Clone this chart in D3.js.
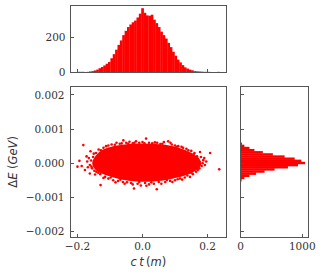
<!DOCTYPE html>
<html><head><meta charset="utf-8">
<script src="https://cdn.jsdelivr.net/npm/d3@7"></script>
<style>
html,body{margin:0;padding:0;background:#fff;}
svg{display:block;}
.tick-label{font-family:"DejaVu Serif",serif;font-size:10.5px;fill:#333;}
.axis-label{font-family:"DejaVu Sans",sans-serif;font-size:11.5px;fill:#333;}
</style>
</head><body>
<svg id="chart" width="323" height="274"></svg>
<script>
// ---------------- data ----------------
// top histogram of c t (m): 60 equal bins between these edges
const ctBinRange = [-0.201, 0.237];
const ctCounts = [1,1,1,0,1,3,5,9,14,22,29,38,48,58,80,104,130,158,184,215,
  240,262,277,290,300,318,340,372,345,330,328,334,305,285,262,235,215,195,170,145,
  118,95,72,56,40,27,20,14,10,5,4,3,2,1,1,1,0,0,0,1];
// right histogram of ΔE (GeV): 24 equal bins, listed from lowest ΔE to highest
const dEBinRange = [-0.00077, 0.00073];
const dECounts = [1,1,3,6,15,60,142,250,387,550,767,930,1045,984,876,713,522,359,223,142,60,20,4,1];
// dense core outline of the scatter cloud [ct, ΔE]
const coreOutline = [
  [-0.151,-0.00001],[-0.141,0.0002],[-0.121,0.00036],[-0.090,0.00046],[-0.049,0.00052],
  [-0.008,0.00054],[0.033,0.00053],[0.074,0.0005],[0.115,0.0004],[0.146,0.00028],
  [0.172,0.00011],[0.177,-0.00003],[0.162,-0.00018],[0.131,-0.00032],[0.085,-0.00043],
  [0.033,-0.0005],[-0.018,-0.0005],[-0.069,-0.00043],[-0.110,-0.00032],[-0.141,-0.00018]
];
// individual particles visible around the core [ct, ΔE]
const particles = [
  [-0.182,0.00053],[-0.172,0.0002],[-0.194,0.00007],[-0.2,-0.0001],[-0.187,-0.00008],
  [-0.177,-0.0002],[-0.162,-0.0003],[-0.146,-0.00033],[-0.129,-0.00064],
  [-0.16,0.00035],[-0.15,0.00028],[-0.135,0.0004],[-0.12,0.00045],[-0.105,0.00052],
  [-0.095,0.00055],[-0.08,0.0006],[-0.07,0.00057],[-0.059,0.00067],[-0.05,0.0006],
  [-0.04,0.00063],[-0.03,0.00058],[-0.02,0.00064],[-0.01,0.0006],[0.0,0.00062],
  [0.011,0.00072],[0.02,0.0006],[0.03,0.00058],[0.045,0.0006],[0.055,0.00056],
  [0.066,0.00062],[0.079,0.00064],[0.09,0.00055],[0.1,0.00052],[0.11,0.0005],
  [0.125,0.00045],[0.135,0.00042],[0.15,0.00036],[0.16,0.0003],[0.177,0.00033],
  [0.208,0.0003],[0.19,0.00015],[0.187,0.00009],[0.185,0.0],[0.182,-0.00008],
  [0.175,-0.00015],[0.236,-0.00018],[0.165,-0.00025],[0.155,-0.00032],[0.146,-0.0004],
  [0.13,-0.00042],[0.115,-0.00045],[0.1,-0.0005],[0.085,-0.00052],[0.07,-0.00055],
  [0.058,-0.0006],[0.044,-0.00076],[0.035,-0.0006],[0.02,-0.00062],[0.008,-0.00058],
  [-0.005,-0.00065],[-0.015,-0.0006],[-0.026,-0.00074],[-0.035,-0.00058],[-0.048,-0.00056],
  [-0.06,-0.00055],[-0.075,-0.00052],[-0.09,-0.0005],[-0.105,-0.00045],[-0.115,-0.0004],
  [-0.13,-0.00032],[-0.142,-0.00025],[-0.155,-0.00015],[-0.162,-0.00005],[-0.165,0.00015],
  [-0.17,0.00005],
  [-0.158,0.00008],[-0.152,0.00018],[-0.143,0.0003],[-0.128,0.00038],[-0.112,0.0005],
  [-0.085,0.00054],[-0.064,0.00058],[-0.044,0.00057],[-0.025,0.0006],[0.006,0.00058],
  [0.038,0.00061],[0.061,0.00057],[0.086,0.0006],[0.105,0.00048],[0.12,0.00048],
  [0.141,0.00038],[0.157,0.00026],[0.168,0.0002],[0.18,0.00018],[0.196,0.00005],
  [0.192,-0.00005],[0.17,-0.0002],[0.15,-0.00028],[0.138,-0.00036],[0.122,-0.00048],
  [0.108,-0.00047],[0.092,-0.00055],[0.075,-0.00049],[0.05,-0.00055],[0.027,-0.00056],
  [0.012,-0.00066],[-0.01,-0.00055],[-0.03,-0.00062],[-0.055,-0.0006],[-0.068,-0.00048],
  [-0.083,-0.00056],[-0.098,-0.00042],[-0.12,-0.00043],[-0.136,-0.00028],[-0.148,-0.00022],
  [-0.157,-0.0001],[-0.168,-0.00012]
];
const ctTicks = [-0.2, 0.0, 0.2];
const dETicks = [-0.002, -0.001, 0.0, 0.001, 0.002];
const ctCountTicks = [0, 200];
const dECountTicks = [0, 1000];

// ---------------- layout ----------------
const svg = d3.select("#chart");
const mainBox = {l:70, r:226.7, t:86, b:237.7};
const topBox = {l:70, r:226.7, t:5, b:72};
const sideBox = {l:240.7, r:308.3, t:86, b:237.7};
const red = "#ff0000", frame = "#555", TL = 3.5;
const minus = s => s.replace("-", "\u2212");

const x = d3.scaleLinear().domain([-0.223, 0.259]).range([mainBox.l, mainBox.r]);
const y = d3.scaleLinear().domain([-0.00218, 0.00226]).range([mainBox.b, mainBox.t]);
const yTop = d3.scaleLinear().domain([0, d3.max(ctCounts)*1.05]).range([topBox.b, topBox.t]);
const xSide = d3.scaleLinear().domain([0, d3.max(dECounts)*1.05]).range([sideBox.l, sideBox.r]);

const ctW = (ctBinRange[1]-ctBinRange[0])/ctCounts.length;
const dEW = (dEBinRange[1]-dEBinRange[0])/dECounts.length;

// ---- top histogram ----
const gTop = svg.append("g");
gTop.selectAll("rect").data(ctCounts).join("rect")
  .attr("x", (d,i)=>x(ctBinRange[0]+i*ctW))
  .attr("width", (d,i)=>x(ctBinRange[0]+(i+1)*ctW)-x(ctBinRange[0]+i*ctW)+0.3)
  .attr("y", d=>yTop(d)).attr("height", d=>yTop(0)-yTop(d))
  .attr("fill", red);

// ---- side histogram ----
const gSide = svg.append("g");
gSide.selectAll("rect").data(dECounts).join("rect")
  .attr("y", (d,i)=>y(dEBinRange[0]+(i+1)*dEW))
  .attr("height", (d,i)=>y(dEBinRange[0]+i*dEW)-y(dEBinRange[0]+(i+1)*dEW)+0.3)
  .attr("x", xSide(0)).attr("width", d=>xSide(d)-xSide(0))
  .attr("fill", red);

// ---- scatter ----
const gMain = svg.append("g");
gMain.append("path").datum(coreOutline)
  .attr("d", d3.line().x(d=>x(d[0])).y(d=>y(d[1])).curve(d3.curveCatmullRomClosed))
  .attr("fill", red).attr("stroke", red).attr("stroke-width", 2.5).attr("stroke-linejoin","round");
gMain.selectAll("circle").data(particles).join("circle")
  .attr("cx", d=>x(d[0])).attr("cy", d=>y(d[1])).attr("r", 1.3).attr("fill", red);

// ---- frames ----
function frameRect(b){
  svg.append("rect").attr("x", b.l).attr("y", b.t).attr("width", b.r-b.l).attr("height", b.b-b.t)
    .attr("fill","none").attr("stroke", frame).attr("stroke-width", 1).attr("shape-rendering","crispEdges");
}
[topBox, mainBox, sideBox].forEach(frameRect);

// ---- ticks ----
const gT = svg.append("g").attr("stroke", frame).attr("stroke-width", 1).attr("shape-rendering","crispEdges");
ctTicks.forEach(t=>{ gT.append("line").attr("x1",x(t)).attr("x2",x(t)).attr("y1",mainBox.b).attr("y2",mainBox.b-TL); });
ctTicks.forEach(t=>{ if (t!==0) gT.append("line").attr("x1",x(t)).attr("x2",x(t)).attr("y1",topBox.b).attr("y2",topBox.b-TL); });
dETicks.forEach(t=>{
  gT.append("line").attr("x1",mainBox.l).attr("x2",mainBox.l+TL).attr("y1",y(t)).attr("y2",y(t));
  gT.append("line").attr("x1",sideBox.l).attr("x2",sideBox.l+TL).attr("y1",y(t)).attr("y2",y(t));
});
ctCountTicks.forEach(t=>{ gT.append("line").attr("x1",topBox.l).attr("x2",topBox.l+TL).attr("y1",yTop(t)).attr("y2",yTop(t)); });
dECountTicks.forEach(t=>{ gT.append("line").attr("x1",xSide(t)).attr("x2",xSide(t)).attr("y1",sideBox.b).attr("y2",sideBox.b-TL); });

// ---- tick labels ----
const gL = svg.append("g");
ctTicks.forEach(t=>{ gL.append("text").attr("class","tick-label").attr("x",x(t)).attr("y",250)
  .attr("text-anchor","middle").text(minus(d3.format(".1f")(t))); });
dECountTicks.forEach(t=>{ gL.append("text").attr("class","tick-label").attr("x",xSide(t)).attr("y",250)
  .attr("text-anchor","middle").text(String(t)); });
dETicks.forEach(t=>{ gL.append("text").attr("class","tick-label").attr("x",64.5).attr("y",y(t)).attr("dy","0.36em")
  .attr("text-anchor","end").text(minus(d3.format(".3f")(t))); });
ctCountTicks.forEach(t=>{ gL.append("text").attr("class","tick-label").attr("x",65.5).attr("y",yTop(t)).attr("dy","0.36em")
  .attr("text-anchor","end").text(String(t)); });

// ---- axis labels ----
const xl = svg.append("text").attr("class","axis-label").attr("x",(mainBox.l+mainBox.r)/2).attr("y",266).attr("text-anchor","middle");
xl.append("tspan").attr("font-style","italic").text("c\u2009t\u2009");
xl.append("tspan").text("(");
xl.append("tspan").attr("font-style","italic").text("m");
xl.append("tspan").text(")");

const yl = svg.append("text").attr("class","axis-label")
  .attr("transform",`translate(17,${(mainBox.t+mainBox.b)/2}) rotate(-90)`).attr("text-anchor","middle");
yl.append("tspan").text("\u0394");
yl.append("tspan").attr("font-style","italic").text("E ");
yl.append("tspan").text("(");
yl.append("tspan").attr("font-style","italic").text("GeV");
yl.append("tspan").text(")");
</script>
</body></html>
